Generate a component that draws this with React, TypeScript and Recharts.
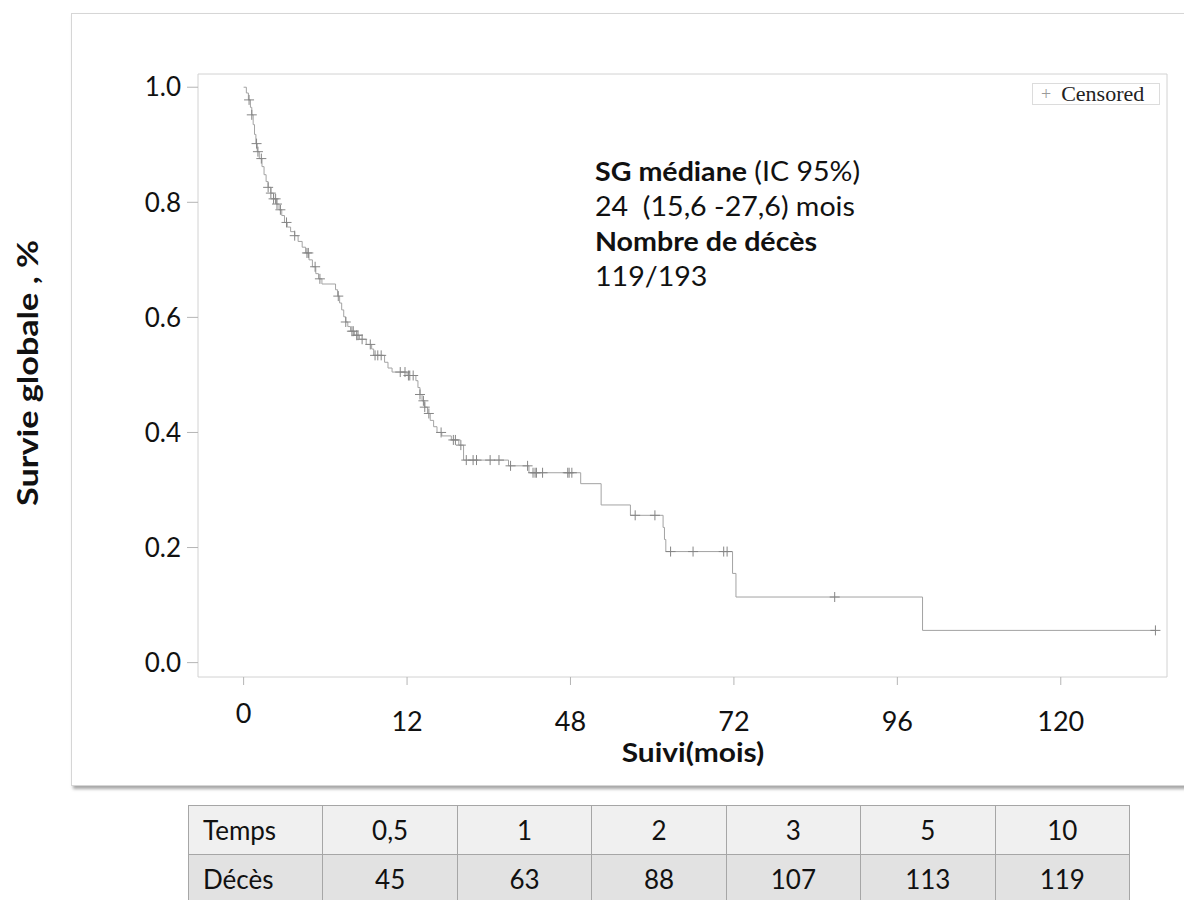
import React from 'react';
import { ComposedChart, Line, Scatter, XAxis, YAxis, ReferenceArea } from 'recharts';

// Kaplan-Meier steps (months, survival after the drop)
const stepTimes = [
  0, 0.4, 0.7, 1.0, 1.2, 1.4, 1.6, 1.8, 2.0, 2.3,
  2.7, 3.0, 3.3, 3.6, 4.0, 4.4, 4.8, 5.2, 5.6, 6.0,
  6.4, 6.9, 7.5, 8.0, 8.6, 9.1, 9.6, 10.1, 10.6, 11.0,
  11.5, 13.5, 13.8, 14.1, 14.4, 14.7, 15.0, 15.3, 15.7, 16.3,
  17.0, 18.0, 18.8, 19.1, 20.7, 21.2, 21.8, 24.0, 25.3, 25.6,
  25.9, 26.2, 26.6, 27.0, 27.4, 27.9, 28.4, 29.1, 30.5, 31.6,
  32.3, 38.9, 41.9, 49.5, 52.5, 56.8, 61.6, 61.8, 62.0, 71.8,
  72.3, 99.7,
];
const survival = [
  1.0, 0.99, 0.978, 0.965, 0.952, 0.935, 0.918, 0.902, 0.888, 0.876,
  0.862, 0.848, 0.836, 0.826, 0.816, 0.806, 0.797, 0.787, 0.777, 0.765,
  0.757, 0.749, 0.742, 0.732, 0.722, 0.712, 0.7, 0.688, 0.676, 0.667,
  0.658, 0.648, 0.637, 0.625, 0.613, 0.601, 0.592, 0.584, 0.576, 0.569,
  0.562, 0.553, 0.545, 0.534, 0.522, 0.512, 0.505, 0.499, 0.49, 0.478,
  0.466, 0.455, 0.444, 0.433, 0.421, 0.41, 0.4, 0.394, 0.387, 0.378,
  0.352, 0.342, 0.33, 0.311, 0.274, 0.256, 0.235, 0.214, 0.193, 0.155,
  0.114, 0.056,
];
const followUpEnd = 133.9;

const censorTimes = [
  0.8, 1.2, 1.9, 2.1, 2.6, 3.6, 4.0, 4.4, 4.7, 4.9, 5.4, 6.3, 7.5, 9.3, 9.5,
  10.5, 11.2, 13.9, 15.0, 15.9, 16.1, 16.6, 16.8, 17.4, 18.6, 19.3, 19.7, 20.2,
  23.0, 23.7, 24.2, 24.4, 24.9, 25.9, 26.4, 26.6, 27.2, 29.0, 30.8, 31.1, 31.9,
  32.7, 33.7, 34.2, 36.2, 37.5, 39.2, 41.7, 42.5, 42.8, 43.0, 43.9, 47.6, 47.8,
  48.2, 57.5, 60.4, 62.7, 66.0, 70.5, 71.0, 86.8, 133.9,
];

const xTicks = [0, 24, 48, 72, 96, 120];
const xTickLabels = ['0', '12', '48', '72', '96', '120'];
const yTicks = [0, 0.2, 0.4, 0.6, 0.8, 1.0];

const tableTimes = ['0,5', '1', '2', '3', '5', '10'];
const tableDeaths = ['45', '63', '88', '107', '113', '119'];

const FONT = 'Lato, "Open Sans", sans-serif';
const X_DOMAIN: [number, number] = [-6.7, 135.6];
const Y_DOMAIN: [number, number] = [-0.025, 1.023];

const survivalAt = (t: number) => {
  let s = survival[0];
  stepTimes.forEach((st, i) => {
    if (st <= t) s = survival[i];
  });
  return s;
};

const CensorMark = ({ cx, cy }: any) => (
  <path d={`M${cx - 5},${cy}H${cx + 5}M${cx},${cy - 5}V${cy + 5}`} stroke="#858585" strokeWidth={1} fill="none" />
);

const XTick = ({ x, y, payload }: any) => {
  const i = xTicks.indexOf(payload.value);
  return (
    <text x={x} y={y} dy={i === 0 ? 36 : 44} textAnchor="middle" fontFamily={FONT} fontSize={27} fill="#111">
      {xTickLabels[i]}
    </text>
  );
};

const cell: React.CSSProperties = {
  border: '1px solid #a6a6a6',
  height: 48,
  padding: 0,
  textAlign: 'center',
  fontFamily: FONT,
  fontSize: 26,
  color: '#111',
};

const App = () => {
  const curveData = stepTimes.map((t, i) => ({ t, s: survival[i] }));
  curveData.push({ t: followUpEnd, s: survival[survival.length - 1] });
  const censorData = censorTimes.map((t) => ({ t, s: survivalAt(t) }));

  return (
    <div style={{ position: 'absolute', left: 0, top: 0, width: 1184, height: 900, overflow: 'hidden', background: '#fff' }}>
      {/* framed panel */}
      <div
        style={{
          position: 'absolute',
          left: 71,
          top: 13,
          width: 1130,
          height: 771,
          border: '1px solid #d6d6d6',
          boxShadow: '2px 3px 3px rgba(0,0,0,0.35)',
          background: '#fff',
        }}
      />

      <div style={{ position: 'absolute', left: 0, top: 0 }}>
        <ComposedChart width={1184} height={790} margin={{ top: 74, right: 17, bottom: 53, left: 138 }}>
          <XAxis
            type="number"
            dataKey="t"
            domain={X_DOMAIN}
            allowDataOverflow
            ticks={xTicks}
            tick={<XTick />}
            tickSize={8}
            tickLine={{ stroke: '#b5b5b5' }}
            axisLine={false}
            height={60}
          />
          <YAxis
            type="number"
            domain={Y_DOMAIN}
            allowDataOverflow
            ticks={yTicks}
            tickFormatter={(v: number) => v.toFixed(1)}
            tick={{ fontFamily: FONT, fontSize: 26, fill: '#111' }}
            tickSize={11}
            tickMargin={6}
            tickLine={{ stroke: '#b5b5b5' }}
            axisLine={false}
            width={60}
          />
          <ReferenceArea x1={X_DOMAIN[0]} x2={X_DOMAIN[1]} y1={Y_DOMAIN[0]} y2={Y_DOMAIN[1]} fill="none" stroke="#d2d2d2" strokeWidth={1} />
          <Line
            data={curveData}
            dataKey="s"
            type="stepAfter"
            stroke="#a3a3a3"
            strokeWidth={1}
            dot={false}
            isAnimationActive={false}
          />
          <Scatter data={censorData} dataKey="s" shape={<CensorMark />} isAnimationActive={false} />
        </ComposedChart>
      </div>

      {/* legend */}
      <div
        style={{
          position: 'absolute',
          left: 1032,
          top: 83,
          width: 126,
          height: 20,
          border: '1px solid #dcdcdc',
          display: 'flex',
          alignItems: 'center',
          fontFamily: '"Liberation Serif", serif',
          fontSize: 22,
          color: '#222',
          background: '#fff',
          whiteSpace: 'nowrap',
        }}
      >
        <span style={{ color: '#9a9a9a', marginLeft: 8, marginRight: 10, fontSize: 18 }}>+</span>
        <span>Censored</span>
      </div>

      {/* annotation */}
      <div
        style={{
          position: 'absolute',
          left: 595,
          top: 154,
          fontFamily: FONT,
          fontSize: 26,
          lineHeight: '35px',
          color: '#111',
          whiteSpace: 'pre',
          transform: 'scaleX(1.1)',
          transformOrigin: 'left top',
        }}
      >
        <div>
          <b>SG médiane</b> (IC 95%)
        </div>
        <div>24  (15,6 -27,6) mois</div>
        <div>
          <b>Nombre de décès</b>
        </div>
        <div>119/193</div>
      </div>

      {/* axis titles */}
      <div
        style={{
          position: 'absolute',
          left: 693,
          top: 737,
          transform: 'translateX(-50%) scaleX(1.15)',
          fontFamily: FONT,
          fontWeight: 'bold',
          fontSize: 26,
          lineHeight: 1.2,
          whiteSpace: 'nowrap',
          color: '#111',
        }}
      >
        Suivi(mois)
      </div>
      <div
        style={{
          position: 'absolute',
          left: 28,
          top: 373,
          transform: 'translate(-50%, -50%) rotate(-90deg) scaleX(1.22)',
          fontFamily: FONT,
          fontWeight: 'bold',
          fontSize: 28,
          lineHeight: 1.2,
          whiteSpace: 'nowrap',
          color: '#111',
        }}
      >
        Survie globale , %
      </div>

      {/* deaths table */}
      <table style={{ position: 'absolute', left: 188, top: 805, width: 942, borderCollapse: 'collapse', tableLayout: 'fixed' }}>
        <tbody>
          <tr style={{ background: '#f0f0f0' }}>
            <td style={{ ...cell, textAlign: 'left', paddingLeft: 14 }}>Temps</td>
            {tableTimes.map((t) => (
              <td key={t} style={cell}>
                {t}
              </td>
            ))}
          </tr>
          <tr style={{ background: '#e2e2e2' }}>
            <td style={{ ...cell, textAlign: 'left', paddingLeft: 14 }}>Décès</td>
            {tableDeaths.map((d) => (
              <td key={d} style={cell}>
                {d}
              </td>
            ))}
          </tr>
        </tbody>
      </table>
    </div>
  );
};

export default App;
